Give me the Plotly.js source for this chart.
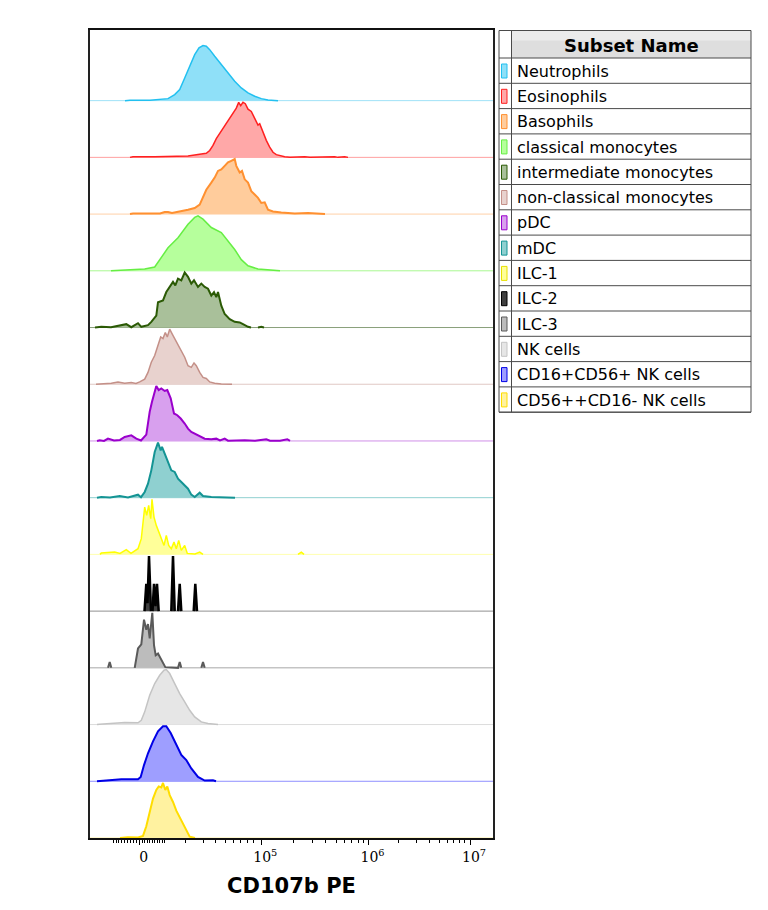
<!DOCTYPE html>
<html><head><meta charset="utf-8">
<script src="https://cdn.plot.ly/plotly-3.0.1.min.js"></script>
<style>html,body{margin:0;padding:0;background:#fff}#chart{width:768px;height:910px}</style>
</head><body><div id="chart"></div>
<script>
// ---------- DATA ----------
const subsetNames = ["Neutrophils","Eosinophils","Basophils","classical monocytes","intermediate monocytes","non-classical monocytes","pDC","mDC","ILC-1","ILC-2","ILC-3","NK cells","CD16+CD56+ NK cells","CD56++CD16- NK cells"];

// x values are display-channel positions on the biexponential CD107b PE scale; y are event counts (relative)
const neutX = [125,130,150,160,168,174.7,179.7,184.7,189.7,194.7,199,203,206.3,209.7,214.7,221.3,228,234.7,241.3,248,254.7,261.3,268,278];
const neutY = [0,0.3,0.5,1,2,6,11,22.7,34.4,46,52.7,55,54.4,51,44.4,36,27.7,19.4,12.7,7.7,4.4,2,0.7,0];

const eosX = [130,133,154.7,188,198,206.3,209.7,213,216.3,219.7,223,226.3,229.7,233,236.3,238.7,240.7,243,245.3,248,251.3,254.7,258,259.7,263,266.3,269.7,273,276.3,279.7,284.7,290,304.7,310,334.7,338,344.7,348];
const eosY = [0,0.7,0.7,1.3,2.7,4,6.7,11.7,18.3,23.3,28.3,33.3,38.3,42.7,48.3,54,50.7,54,52.7,47.3,45,38.3,31.7,33,24,16.7,10,5,2.7,1.7,0.7,0,0.7,0,0.7,0,0.7,0];

const basoX = [130,133,160,164.7,168,172,188,194.7,199.7,203,206.3,211.3,214.7,218,221.3,224.7,228,231.3,234.7,236.3,239.7,242,244.7,248,251.3,254.7,258,261.3,264.7,268,273,281.3,294.7,308,321.3,325];
const basoY = [0,0.6,0.6,2,2,1,4.3,6,9.3,16,24,31,36,42.6,44,47.6,51,52.6,54.3,47.6,41,42.6,34.3,31,22.6,19.3,16,11,11.6,4.3,2.6,1.6,0.6,1,0.3,0];

const classX = [111,128,144.7,154.7,159.7,168,178,188,194.7,198,203,211.3,221.3,228,234.7,241.3,248,258,274.7,280];
const classY = [0,1,1.7,3.7,11,22.7,32.7,46,52.7,54.3,51,42.7,37.7,29.3,21,11,5,1.7,0.3,0];

const interX = [95,101.3,111,121.3,126.3,131.3,138,141.3,148,151.3,156.3,158,163,166.3,169.7,173,175.3,178,181.3,184.7,188,191.3,194,198,201.3,204.7,208,211.3,214,216.3,218,221.3,224.7,229.7,234.7,239.7,243,248,251,258,261.3,264];
const interY = [0,0.7,0.3,2.3,3.3,0.3,4.3,0.7,2.3,5.6,11.7,25,26.7,35,40,45,41.6,48.3,46.6,54.3,50,43.3,46.6,40,43.3,40,38.3,31.6,35,30,35,21.6,13.3,8.3,5.6,5,3.3,0.7,0,0,0.7,0];

const ncX = [96,111.3,118,124.7,131.3,136,139.7,144.7,148,151.3,154.7,158,160.7,163,165.3,167.3,169.7,172,174.7,178,181.3,184.7,188,191.3,194,196.3,199.7,203,206.3,209.7,214.7,221.3,232];
const ncY = [0,1,2.3,1,1.7,0.7,2.3,5,11.7,21.7,28.3,38.3,46.7,45,51,46.7,54.3,50,45,40,33.3,26.7,18.3,16.7,21,18.3,11.7,6.7,5.7,2.3,1,0.3,0];

const pdcX = [97,99.7,104,108,114,120,124.7,131.3,136.3,141,146.3,149.7,152,154.7,156.3,158.7,161.3,164.7,167.3,170.7,174,177.3,180.7,184.7,188,191.3,194.7,199.7,204.7,211.3,216.3,220,224.7,228,235,244.7,255,266.3,270,280,287.3,290];
const pdcY = [0,0.7,0,2.3,0.5,1,4,5.6,2.3,0.5,6.3,29,39,49,54.7,50.6,52.3,49.7,50.6,42.3,27.3,25.6,22.3,17.3,12.3,9,7.3,4,2.3,1.7,2.3,0.5,2.3,0.3,0.7,0.7,0.3,1.7,0.3,0.2,1.7,0];

const mdcX = [97,101.3,110,119.7,128,138,141,144.7,148,151.3,154.7,158,160.7,162,164.7,168,171.3,174.7,178,181.3,184.7,188,191.3,194.7,199.7,203,211.3,231.3,235];
const mdcY = [0,0.7,0.3,1.7,0.3,3,0.5,5.7,14,27.3,45.7,55,47.3,50.7,44,35.7,27.3,25.7,19,15.7,12.3,9,3,0.7,5,1.7,0.7,0.3,0];

const ilc1X = [100,101.3,114.7,120,126.3,131,138,141.3,144.7,146.7,148.7,150.7,152,154,156.3,158.7,161.3,164,166.3,168.7,171.3,174,176.3,178.7,181.3,184.7,187.3,195,199.7,203,298,301.3,304];
const ilc1Y = [0,1.3,2.3,1,4.7,1,5.7,15.7,47.3,39,49,35.7,55,37.3,29,22.3,15.7,9,19,9,5.7,12.3,5.7,14,4,9,1,0.5,2.3,0,0,2.3,0];

const ilc2X = [100,144.5,146.3,147.5,149,151,152.5,154,155.5,157,158.7,171.3,173,174.7,178,179.7,181.3,193.7,195.3,197,200];
const ilc2Y = [0,0,27.3,8,55,0,0,27.3,5,27.3,0,0,55,0,0,27.3,0,0,27.3,0,0];

const ilc3X = [100,108,109.7,111.3,134.7,136.3,138,141.3,144,146.3,148,149.7,152.3,154,155.7,158,160.7,163,165.3,178,179.7,181.3,201.3,203,204.7,210];
const ilc3Y = [0,0,5.7,0,0,10.7,19,23,47.3,37.3,43,29,54,22.3,12.3,14,9,5.7,0.7,0,5.7,0,0,5.7,0,0];

const nkX = [97,99.7,124.7,138,141.3,144.7,149.7,154.7,159.7,164,166.3,169.7,174.7,179.7,184.7,189.7,194.7,201.3,208,214.7,218];
const nkY = [0,0.3,2,1.7,4.3,12.7,29.3,41,49.3,54.3,55,51,41,31,22.7,14.3,7.7,2.7,1,0.3,0];

const cd16X = [97,100,121.3,138,140.7,144,148,153,158,163,166.3,170.7,175.3,181.3,186.3,191.3,198,204.7,213,216];
const cd16Y = [0,0.3,2,2,4.3,16,27.7,39.4,49.4,54.4,54.4,47.7,37.7,26,21,12.7,4.3,0.7,1,0];

const cd56X = [120,128,138,143,146.3,149.7,153,156.3,158.7,161.3,163,165.3,167.3,169.7,173,176.3,179.7,183,186.3,189.7,195];
const cd56Y = [0,0.7,0.5,2,11.3,24.7,38,46.3,49.7,48.7,53,46.3,49.7,41.3,34.7,26.3,19.7,13,6.3,1.3,0];

const seriesX = [neutX,eosX,basoX,classX,interX,ncX,pdcX,mdcX,ilc1X,ilc2X,ilc3X,nkX,cd16X,cd56X];
const seriesY = [neutY,eosY,basoY,classY,interY,ncY,pdcY,mdcY,ilc1Y,ilc2Y,ilc3Y,nkY,cd16Y,cd56Y];

// axis ticks (display-channel positions)
const majorTickVals = [139.7,261.3,368.5,470];
const majorTickText = ["0","10<sup>5</sup>","10<sup>6</sup>","10<sup>7</sup>"];
const minorTickVals = [113,116,118.9,121.9,124.9,127.8,130.8,133.8,136.7,142.2,144.7,147.2,149.7,152.2,154.7,157.2,159.7,162.2,164.7,
  185.7,203,215.7,225.7,233.7,240.7,247.3,253.7,
  293.6,312.4,325.8,336.2,344.7,351.9,358.1,363.6,
  398.6,416.4,429.1,439,447,453.8,459.7,464.8];

// ---------- STYLE ----------
const lineColors = ["#22c0f0","#ff2020","#ff9030","#66ee44","#2b5a05","#c49088","#9a00cc","#149494","#ffff00","#000000","#5a5a5a","#c4c4c4","#0000e6","#ffdd00"];
const fillColors = ["#8fe0f8","#ffa8a8","#ffcc9c","#b6ff9c","#a9c09a","#e8d2ce","#d8a0ee","#8fd0d0","#ffff99","#404040","#bcbcbc","#e6e6e6","#9e9eff","#fff2a0"];
const baseColors = ["#9fe2f7","#ffa0a0","#ffd0a8","#a8f890","#8aa07a","#e0c8c4","#d090e8","#90d0d0","#ffffb0","#909090","#a8a8a8","#dcdcdc","#9090ff","#fff0a0"];
const lineWidths = [1.5,1.5,2,1.5,2,1.5,2,2,1.5,2.5,2,1.5,2,2];

const W = 768, H = 910;
const PL = 90, PR = 493, PT = 30, PB = 838;
const rowStep = 56.72;
const nRows = subsetNames.length;
const yMax = (PB - PT) / rowStep;
const peakFrac = 0.97;

// split the outline so that runs of empty bins are not stroked (they sit on the baseline)
function outline(xs, ys) {
  const ox = [], oy = [];
  for (let k = 0; k < xs.length; k++) {
    ox.push(xs[k]); oy.push(ys[k]);
    if (k < xs.length - 1 && ys[k] === 0 && ys[k+1] === 0) { ox.push(null); oy.push(null); }
  }
  return [ox, oy];
}

const traces = [];
subsetNames.forEach((name, i) => {
  const base = nRows - 1 - i;
  const xs = seriesX[i], ys = seriesY[i];
  const m = Math.max(...ys);
  const scale = v => (v === null ? null : base + v / m * peakFrac);
  traces.push({x:[PL, PR], y:[base, base], mode:'lines', line:{color:baseColors[i], width:1}, hoverinfo:'skip', showlegend:false});
  traces.push({x:xs, y:ys.map(scale), name:name, mode:'lines', fill:'toself',
    fillcolor:fillColors[i], line:{width:0}, showlegend:false});
  const [ox, oy] = outline(xs, ys);
  traces.push({x:ox, y:oy.map(scale), mode:'lines', connectgaps:false,
    line:{color:lineColors[i], width:lineWidths[i]}, hoverinfo:'skip', showlegend:false});
});

// ---------- LEGEND TABLE (shapes + annotations in paper px) ----------
const px = v => v / W, py = v => 1 - v / H;
const tL = 499, tM = 511.5, tR = 751, tT = 30.5, hB = 58, rowH = 25.3;
const tB = hB + rowH * nRows;
const shapes = [];
const annotations = [];
shapes.push({type:'rect', xref:'paper', yref:'paper', x0:px(tM), x1:px(tR), y0:py(tT), y1:py(hB), fillcolor:'#dedede', line:{width:0}, layer:'below'});
shapes.push({type:'rect', xref:'paper', yref:'paper', x0:px(tM), x1:px(tR), y0:py(tT), y1:py(tT+10), fillcolor:'#ebebeb', line:{width:0}, layer:'below'});
for (let k = 0; k <= nRows; k++) {
  const yy = hB + rowH * k;
  shapes.push({type:'line', xref:'paper', yref:'paper', x0:px(tL), x1:px(tR), y0:py(yy), y1:py(yy), line:{color:'#4a4a4a', width:1}});
}
shapes.push({type:'rect', xref:'paper', yref:'paper', x0:px(tL), x1:px(tR), y0:py(tT), y1:py(tB), line:{color:'#4a4a4a', width:1}});
shapes.push({type:'line', xref:'paper', yref:'paper', x0:px(tM), x1:px(tM), y0:py(tT), y1:py(tB), line:{color:'#4a4a4a', width:1}});
annotations.push({xref:'paper', yref:'paper', x:px((tM+tR)/2), y:py((tT+hB)/2+1), text:'<b>Subset Name</b>', showarrow:false,
  xanchor:'center', yanchor:'middle', font:{family:'DejaVu Sans', size:18, color:'#000'}});
subsetNames.forEach((name, i) => {
  const top = hB + rowH * i;
  shapes.push({type:'rect', xref:'paper', yref:'paper', x0:px(501.5), x1:px(507), y0:py(top+6), y1:py(top+20),
    fillcolor:fillColors[i], line:{color:lineColors[i] === '#ffff00' ? '#e8e000' : lineColors[i], width:1}});
  annotations.push({xref:'paper', yref:'paper', x:px(515), y:py(top + rowH/2 + 0.5), text:name, showarrow:false,
    xanchor:'left', yanchor:'middle', font:{family:'DejaVu Sans', size:16, color:'#000'}});
});

const layout = {
  width: W, height: H,
  margin: {l:0, r:0, t:0, b:0, pad:0},
  paper_bgcolor:'#fff', plot_bgcolor:'#fff',
  showlegend:false,
  xaxis: {
    domain:[PL/W, PR/W], range:[PL, PR], autorange:false, automargin:false,
    showgrid:false, zeroline:false, showline:true, mirror:true, linecolor:'#111', linewidth:2,
    tickmode:'array', tickvals:majorTickVals, ticktext:majorTickText,
    ticks:'outside', ticklen:5, tickwidth:1, tickcolor:'#000',
    ticklabelshift:4,
    tickfont:{family:'DejaVu Serif', size:14, color:'#000'},
    minor:{tickmode:'array', tickvals:minorTickVals, ticks:'outside', ticklen:3, tickwidth:1, tickcolor:'#000', showgrid:false},
    title:{text:'<b>CD107b PE</b>', font:{family:'DejaVu Sans', size:21, color:'#000'}, standoff:15}
  },
  yaxis: {
    domain:[1-PB/H, 1-PT/H], range:[0, yMax], autorange:false, automargin:false,
    showgrid:false, zeroline:false, showline:true, mirror:true, linecolor:'#222', linewidth:2,
    showticklabels:false, ticks:''
  },
  shapes: shapes,
  annotations: annotations
};

Plotly.newPlot('chart', traces, layout, {staticPlot:true, displayModeBar:false});
</script>
</body></html>
